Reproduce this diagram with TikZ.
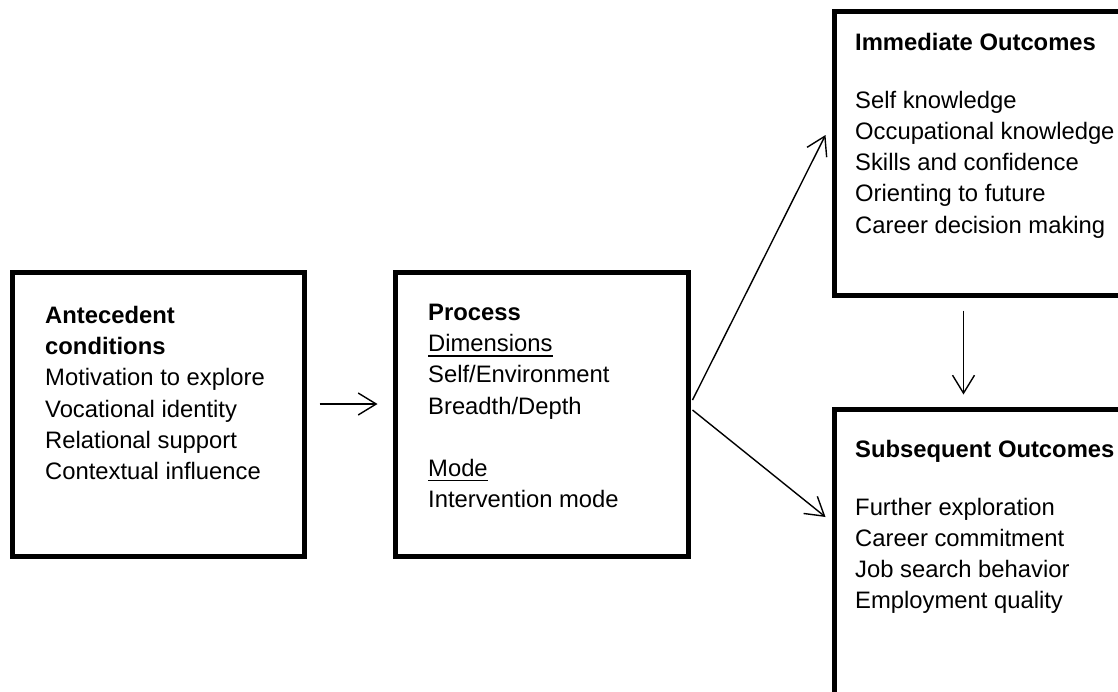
\documentclass[tikz,border=0pt]{standalone}
\usepackage{fontspec}
\setmainfont{Liberation Sans}
\usetikzlibrary{arrows.meta,calc}

% underline set a few points below the baseline
\newcommand\lineul[1]{\setbox0\hbox{#1}\rlap{\rule[-5pt]{\wd0}{1.5pt}}\box0}

\tikzset{
  box/.style={draw, line width=5pt, rectangle, inner sep=0pt, line join=miter},
  % the first line carries a strut, so the top sits 0.7 baselineskip above its baseline
  body/.style={anchor=north west, inner sep=0pt, align=left,
               font=\fontsize{23.8}{31.3}\selectfont},
  link/.style={line width=1.4pt,
               -{Straight Barb[length=18pt,width=22pt,line width=1.4pt]}}
}

\begin{document}
\begin{tikzpicture}[x=1pt,y=-1pt]
  \useasboundingbox (0,0) rectangle (1118,691);
  \fill[white] (0,0) rectangle (1118,691);
  \clip (0,0) rectangle (1118,691);

  % boxes
  \node[box, minimum width=292pt, minimum height=284pt] (ante) at (158,414) {};
  \node[box, minimum width=293pt, minimum height=284pt] (proc) at (541.5,414) {};
  \node[box, minimum width=306pt, minimum height=284pt] (imm)  at (987,153) {};
  \node[box, minimum width=306pt, minimum height=311pt] (sub)  at (987,564.5) {};

  % box contents
  \node[body] (antetext) at (45,301.1)
    {\strut\textbf{Antecedent}\\\textbf{conditions}\\Motivation to explore\\
     Vocational identity\\Relational support\\Contextual influence};
  \node[body] (proctext) at (428,298.1)
    {\strut\textbf{Process}\\\lineul{Dimensions}\\Self/Environment\\Breadth/Depth\\[31pt]
     \lineul{Mode}\\Intervention mode};
  \node[body] (immtext) at (855,28.1)
    {\strut\textbf{Immediate Outcomes}\\[26.5pt]Self knowledge\\Occupational knowledge\\
     Skills and confidence\\Orienting to future\\Career decision making};
  \node[body] (subtext) at (855,435.1)
    {\strut\textbf{Subsequent Outcomes}\\[26.5pt]Further exploration\\Career commitment\\
     Job search behavior\\Employment quality};

  % connectors
  \draw[link] ($(ante.east)+(13,-10)$) -- ($(proc.west)+(-15,-10)$);
  \draw[link] ($(proc.east)+(2,-14)$) -- ($(imm.west)+(-6,-18)$);
  \draw[link] ($(proc.east)+(2,-4)$) -- ($(sub.west)+(-6,-47.5)$);
  \draw[link] ($(imm.south west)+(132,13)$) -- ($(sub.north west)+(132,-12)$);
\end{tikzpicture}
\end{document}
